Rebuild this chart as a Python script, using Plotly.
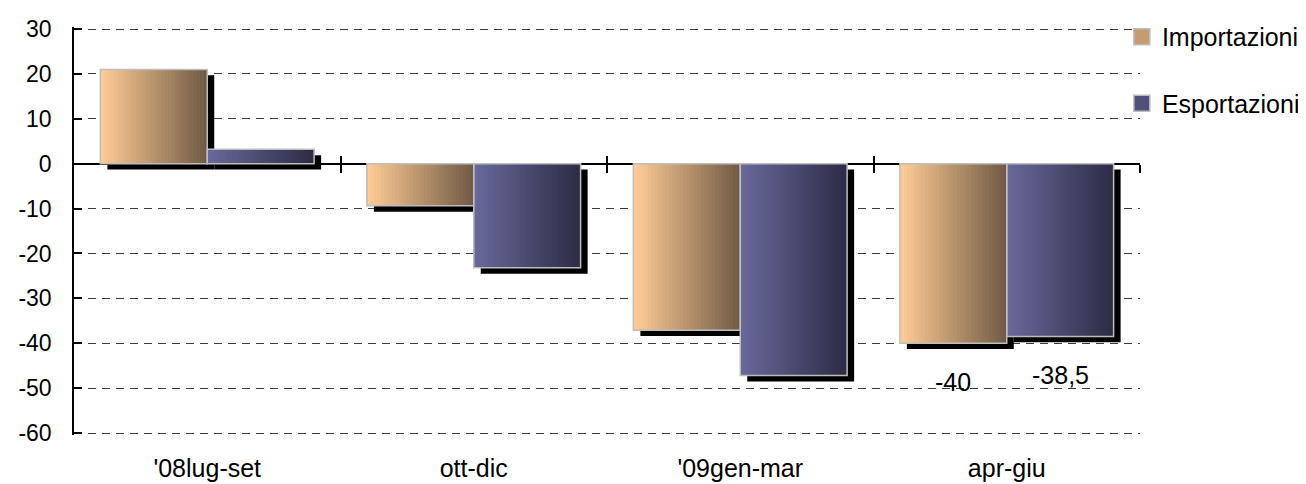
import plotly.graph_objects as go

# ---------------- data ----------------
categories = ["'08lug-set", "ott-dic", "'09gen-mar", "apr-giu"]
importazioni = [21.0, -9.4, -37.1, -40.0]
esportazioni = [3.2, -23.2, -47.2, -38.5]
imp_labels = ["", "", "", "-40"]
exp_labels = ["", "", "", "-38,5"]
y_ticks = [30, 20, 10, 0, -10, -20, -30, -40, -50, -60]
y_ticktext = ["30", "20", "10", "0", "-10", "-20", "-30", "-40", "-50", "-60"]
series_names = ["Importazioni", "Esportazioni"]

# ---------------- style ----------------
BAR_W = 0.401                 # bar width in category units
CAT_PX = 266.5                # pixels per category
SHADOW_DX = 7 / CAT_PX        # shadow offset (x, category units)
SHADOW_DY = 1.3               # shadow offset (y, data units)
N_SLICES = 30
FONT = "Liberation Sans, Arial, sans-serif"
Y_PAD = 2 / 4.489             # 2px of padding so that edge gridlines are drawn
Y_RANGE = [-60 - Y_PAD, 30 + Y_PAD]

styles = [
    dict(c0=(254, 203, 149), c1=(114, 92, 70), offset=-BAR_W, legend=(196, 156, 112)),
    dict(c0=(104, 104, 155), c1=(45, 45, 70), offset=0.0, legend=(80, 80, 120)),
]
series_values = [importazioni, esportazioni]
series_labels = [imp_labels, exp_labels]


def lerp(c0, c1, t):
    return "rgb(%d,%d,%d)" % tuple(round(a + (b - a) * t) for a, b in zip(c0, c1))


fig = go.Figure()

# shadows (behind everything)
for vals, st in zip(series_values, styles):
    fig.add_trace(go.Bar(
        x=categories, y=vals, base=[-SHADOW_DY] * len(vals),
        offset=st["offset"] + SHADOW_DX, width=BAR_W,
        marker=dict(color="black", line=dict(width=0)),
        showlegend=False, hoverinfo="skip",
    ))

# gradient bars built from vertical slices
for vals, st in zip(series_values, styles):
    sw = BAR_W / N_SLICES
    for k in range(N_SLICES):
        t = k / (N_SLICES - 1)
        fig.add_trace(go.Bar(
            x=categories, y=vals,
            offset=st["offset"] + k * sw, width=sw * 2 if k < N_SLICES - 1 else sw,
            marker=dict(color=lerp(st["c0"], st["c1"], t), line=dict(width=0)),
            showlegend=False, hoverinfo="skip",
        ))

# outlines
for vals, st in zip(series_values, styles):
    fig.add_trace(go.Bar(
        x=categories, y=vals, offset=st["offset"], width=BAR_W,
        marker=dict(color="rgba(0,0,0,0)", line=dict(color="#BDBDBD", width=1.5)),
        showlegend=False, hoverinfo="skip",
    ))

# legend entries
for name, st in zip(series_names, styles):
    fig.add_trace(go.Scatter(
        x=[None], y=[None], mode="markers", name=name, legendgroup=name,
        marker=dict(symbol="square", size=16, color=lerp(st["legend"], st["legend"], 0),
                    line=dict(color="#BDBDBD", width=1.5)),
    ))

# dummy traces for the crossing tick axes
for ax in ["x2", "x3"]:
    fig.add_trace(go.Scatter(x=[None], y=[None], xaxis=ax, showlegend=False, hoverinfo="skip"))

# data labels
annotations = []
for vals, labs, st in zip(series_values, series_labels, styles):
    for i, (v, lab) in enumerate(zip(vals, labs)):
        if lab:
            annotations.append(dict(
                x=i + st["offset"] + BAR_W / 2, y=v, yshift=-39, text=lab,
                showarrow=False, xanchor="center", yanchor="middle",
                font=dict(size=25, color="black", family=FONT),
            ))

cross_axis = dict(
    overlaying="x", anchor="free",
    position=(0 - Y_RANGE[0]) / (Y_RANGE[1] - Y_RANGE[0]), type="linear",
    range=[-0.5, 3.5], tickvals=[0.5, 1.5, 2.5, 3.5], ticklen=8, tickwidth=1.5,
    tickcolor="black", showticklabels=False, showgrid=False, zeroline=False, showline=False,
)

# the page body adds an 8px margin, so the figure is sized / placed to compensate
fig.update_layout(
    width=1298, height=476,
    margin=dict(l=66, r=166, t=19, b=49, autoexpand=False),
    paper_bgcolor="white", plot_bgcolor="white",
    barmode="overlay",
    font=dict(family=FONT, size=24, color="black"),
    xaxis=dict(type="category", categoryorder="array", categoryarray=categories,
               range=[-0.5, 3.5], showgrid=False, ticks="", showline=False, zeroline=False,
               tickfont=dict(size=25), ticklabelstandoff=16),
    xaxis2=dict(cross_axis, ticks="outside"),
    xaxis3=dict(cross_axis, ticks="inside"),
    yaxis=dict(range=Y_RANGE, tickvals=y_ticks, ticktext=y_ticktext, showgrid=True,
               gridcolor="#3a3a3a", griddash="8px,6px", gridwidth=1, zeroline=True,
               zerolinecolor="black", zerolinewidth=1.5, showline=True, linecolor="black",
               linewidth=1.5, ticks="inside", ticklen=8, tickwidth=1.5, tickcolor="black",
               ticklabelstandoff=16, tickfont=dict(size=23)),
    legend=dict(xref="paper", yref="paper", x=0.983, y=1.032,
                xanchor="left", yanchor="top", tracegroupgap=31,
                font=dict(size=25), itemwidth=30, bgcolor="rgba(0,0,0,0)"),
    annotations=annotations,
    hovermode=False,
)

fig.write_html("out.html")
